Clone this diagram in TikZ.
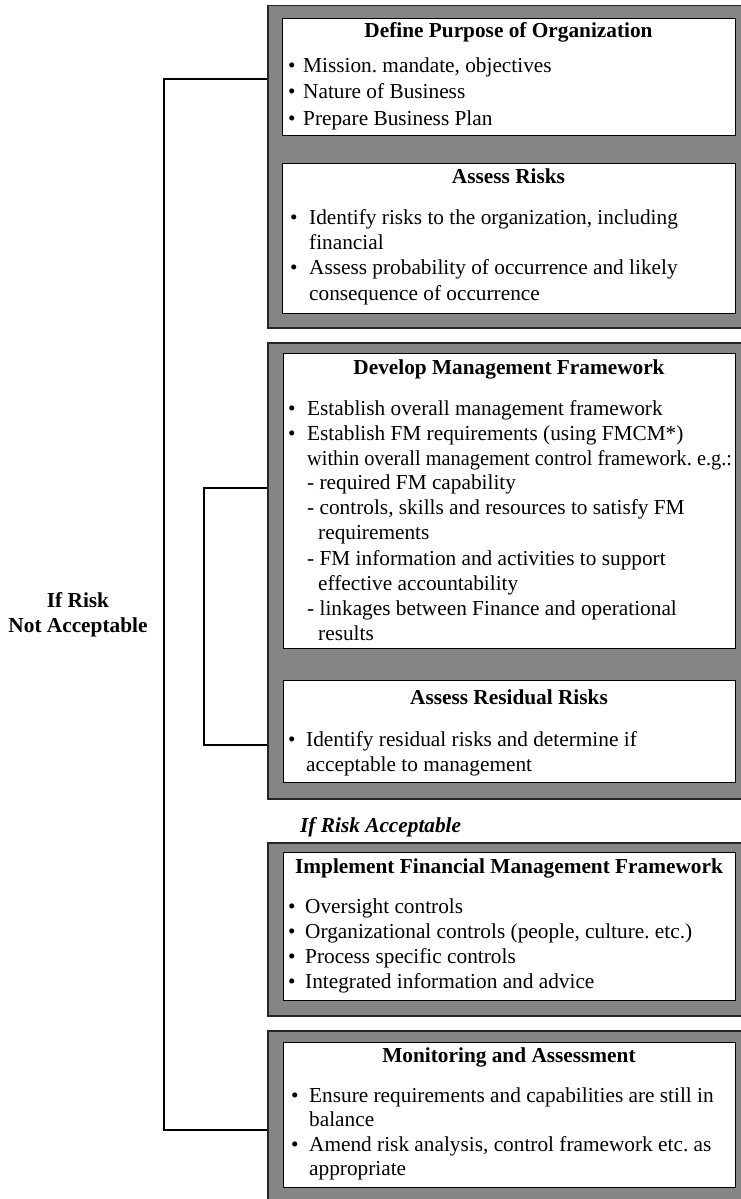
\documentclass[tikz,border=0pt]{standalone}
\usepackage{fontspec}
\usepackage{graphicx}
\setmainfont{Liberation Serif}
\frenchspacing
\newcommand{\bodyfont}{\fontsize{21.3}{25.5}\selectfont\frenchspacing}
\newcommand{\bul}[1]{\makebox[#1][l]{\textbullet}}
\begin{document}
\begin{tikzpicture}[x=1pt,y=-1pt,
  frame/.style={draw=black!85, line width=1.5pt, fill=black!48, anchor=north west, inner sep=0pt, minimum width=480pt},
  panel/.style={draw=black, line width=1.2pt, fill=white, anchor=north west, inner sep=0pt, minimum width=452pt},
  title/.style={anchor=base, inner sep=0pt, font=\bodyfont\bfseries},
  txt/.style={anchor=base west, inner sep=0pt, font=\bodyfont},
  link/.style={draw=black, line width=1.1pt}]
\useasboundingbox (0,0) rectangle (741,1199);
\clip (0,0) rectangle (741,1199);
\fill[white] (0,0) rectangle (741,1199);

% grey frames grouping the stages
\node[frame, minimum height=322pt] (f1) at (267,5) {};
\node[frame, minimum height=456pt] (f2) at (267,342) {};
\node[frame, minimum height=173pt] (f3) at (267,842) {};
\node[frame, minimum height=185pt] (f4) at (267,1030) {};

% white stage panels
\node[panel, minimum width=453pt, minimum height=117pt] (b1) at (282,18) {};
\node[panel, minimum width=453pt, minimum height=150pt] (b2) at (282,163) {};
\node[panel, minimum height=295pt] (b3) at (283,353) {};
\node[panel, minimum height=102pt] (b4) at (283,680) {};
\node[panel, minimum height=148pt] (b5) at (283,852) {};
\node[panel, minimum height=145pt] (b6) at (283,1042) {};

% Define Purpose of Organization
\node[title] (t1) at (508.5,38) {Define Purpose of Organization};
\node[txt] (p11) at (288,73) {\bul{15pt}Mission. mandate, objectives};
\node[txt] (p12) at (288,99) {\bul{15pt}Nature of Business};
\node[txt] (p13) at (288,125) {\bul{15pt}Prepare Business Plan};

% Assess Risks
\node[title] (t2) at (508.5,183) {Assess Risks};
\node[txt] (p21) at (290,224) {\bul{19pt}Identify risks to the organization, including};
\node[txt] (p22) at (309,249.5) {financial};
\node[txt] (p23) at (290,274.5) {\bul{19pt}Assess probability of occurrence and likely};
\node[txt] (p24) at (309,300) {consequence of occurrence};

% Develop Management Framework
\node[title] (t3) at (509,374) {Develop Management Framework};
\node[txt] (p31) at (288,415) {\bul{19pt}Establish overall management framework};
\node[txt] (p32) at (288,440) {\bul{19pt}Establish FM requirements (using FMCM*)};
\node[txt] (p33) at (307,465) {\scalebox{0.955}[1]{within overall management control framework. e.g.:}};
\node[txt] (p34) at (307,489.5) {- required FM capability};
\node[txt] (p35) at (307,514.5) {- controls, skills and resources to satisfy FM};
\node[txt] (p36) at (318,539.5) {requirements};
\node[txt] (p37) at (307,565) {- FM information and activities to support};
\node[txt] (p38) at (318,590) {effective accountability};
\node[txt] (p39) at (307,615) {- linkages between Finance and operational};
\node[txt] (p310) at (318,640) {results};

% Assess Residual Risks
\node[title] (t4) at (509,704) {Assess Residual Risks};
\node[txt] (p41) at (288,746) {\bul{18pt}Identify residual risks and determine if};
\node[txt] (p42) at (306,771) {acceptable to management};

% branch label between the groups
\node[anchor=base west, inner sep=0pt, font=\bodyfont\bfseries\itshape] (ok) at (300,832) {If Risk Acceptable};

% Implement Financial Management Framework
\node[title] (t5) at (509,873) {Implement Financial Management Framework};
\node[txt] (p51) at (288,913) {\bul{17pt}Oversight controls};
\node[txt] (p52) at (288,938) {\bul{17pt}Organizational controls (people, culture. etc.)};
\node[txt] (p53) at (288,963) {\bul{17pt}Process specific controls};
\node[txt] (p54) at (288,988) {\bul{17pt}Integrated information and advice};

% Monitoring and Assessment
\node[title] (t6) at (509,1062) {Monitoring and Assessment};
\node[txt] (p61) at (291,1102) {\bul{18pt}Ensure requirements and capabilities are still in};
\node[txt] (p62) at (309,1126) {balance};
\node[txt] (p63) at (291,1151) {\bul{18pt}Amend risk analysis, control framework etc. as};
\node[txt] (p64) at (309,1175) {appropriate};

% feedback loops on the left
\coordinate (o1) at (164,79);
\coordinate (o2) at (164,1130);
\draw[link] (f1.west |- o1) -- (o1) -- (o2) -- (f4.west |- o2);
\coordinate (i1) at (204,488);
\coordinate (i2) at (204,745);
\draw[link] (f2.west |- i1) -- (i1) -- (i2) -- (f2.west |- i2);

\node[anchor=base, inner sep=0pt, font=\bodyfont\bfseries] (nok1) at (78,607) {If Risk};
\node[anchor=base, inner sep=0pt, font=\bodyfont\bfseries] (nok2) at (78,632) {Not Acceptable};
\end{tikzpicture}
\end{document}
